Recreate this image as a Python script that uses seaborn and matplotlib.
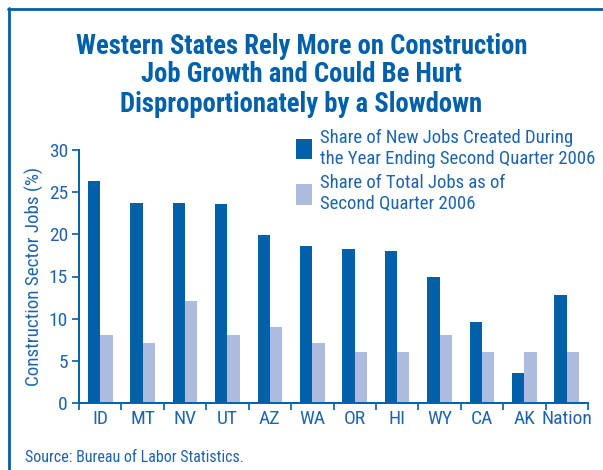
import matplotlib
matplotlib.use("Agg")
import matplotlib.pyplot as plt
import seaborn as sns
import pandas as pd
from matplotlib import font_manager
from matplotlib.lines import Line2D

states = ["ID", "MT", "NV", "UT", "AZ", "WA", "OR", "HI", "WY", "CA", "AK", "Nation"]
new_jobs = [26.3, 23.7, 23.7, 23.6, 19.9, 18.6, 18.3, 18.0, 15.0, 9.6, 3.6, 12.8]
total_jobs = [8.1, 7.1, 12.1, 8.1, 9.0, 7.1, 6.1, 6.1, 8.1, 6.1, 6.1, 6.1]
series_names = ["Share of New Jobs Created During\nthe Year Ending Second Quarter 2006",
                "Share of Total Jobs as of\nSecond Quarter 2006"]
yticks = [0, 5, 10, 15, 20, 25, 30]

df = pd.DataFrame({
    "state": states * 2,
    "value": new_jobs + total_jobs,
    "series": [series_names[0]] * len(states) + [series_names[1]] * len(states),
})

sns.set_theme(style="white")
available = {f.name for f in font_manager.fontManager.ttflist}
prefs = ["Roboto Condensed", "Archivo Narrow", "Barlow Semi Condensed", "PT Sans Narrow"]
fams = [f for f in prefs if f in available] + ["DejaVu Sans"]
plt.rcParams["font.family"] = fams

BLUE = "#0060a9"
LIGHT = "#adbcde"
TXT = "#1e64ad"

fig = plt.figure(figsize=(6.03, 4.70), dpi=100)
ax = fig.add_axes([79/603, 1-403/470, (588-79)/603, (403-150)/470])

sns.barplot(data=df, x="state", y="value", hue="series", order=states,
            hue_order=series_names, palette=[BLUE, LIGHT], width=0.58,
            saturation=1, linewidth=0, ax=ax, legend=True)

ax.set_ylim(0, 30)
ax.set_xlim(-0.5, len(states) - 0.5)
ax.set_yticks(yticks)
ax.set_yticklabels([str(t) for t in yticks], color=TXT, fontsize=14)
ax.set_xticks([i - 0.5 for i in range(len(states) + 1)])
ax.set_xticklabels([])
ax.set_xticks(range(len(states)), minor=True)
ax.set_xticklabels(states, minor=True, color=TXT, fontsize=14)
ax.tick_params(axis="x", which="minor", length=0, pad=5)
ax.tick_params(axis="x", which="major", length=5, width=1.2, color=BLUE, direction="out", bottom=True)
ax.tick_params(axis="y", length=5, width=1.2, color=BLUE, direction="out", left=True, pad=3)
for s in ["top", "right"]:
    ax.spines[s].set_visible(False)
for s in ["left", "bottom"]:
    ax.spines[s].set_color(BLUE)
    ax.spines[s].set_linewidth(1.4)
ax.set_xlabel("")
ax.set_ylabel("Construction Sector Jobs (%)", color=TXT, fontsize=13.8, labelpad=3)

handles, labels = ax.get_legend_handles_labels()
ax.legend(handles, labels, loc="upper left", bbox_to_anchor=(296/603, 1-129/470),
          bbox_transform=fig.transFigure, frameon=False, fontsize=13.5,
          labelcolor=TXT, handlelength=0.85, handleheight=1.3, handletextpad=0.45,
          labelspacing=0.35, borderaxespad=0, borderpad=0)

for i, line in enumerate(["Western States Rely More on Construction",
                          "Job Growth and Could Be Hurt",
                          "Disproportionately by a Slowdown"]):
    fig.text(0.5, 1-(46+29*i)/470, line, ha="center", va="center",
             fontsize=19.2, fontweight="bold", color=BLUE)
fig.text(25/603, 1-457/470, "Source: Bureau of Labor Statistics.", ha="left", va="center",
         fontsize=11.5, color=TXT)

fig.add_artist(Line2D([8/603, 1], [1-9/470, 1-9/470], transform=fig.transFigure, color=BLUE, lw=2))
fig.add_artist(Line2D([9/603, 9/603], [0, 1-8/470], transform=fig.transFigure, color=BLUE, lw=2))

fig.savefig("out.png", dpi=100)
